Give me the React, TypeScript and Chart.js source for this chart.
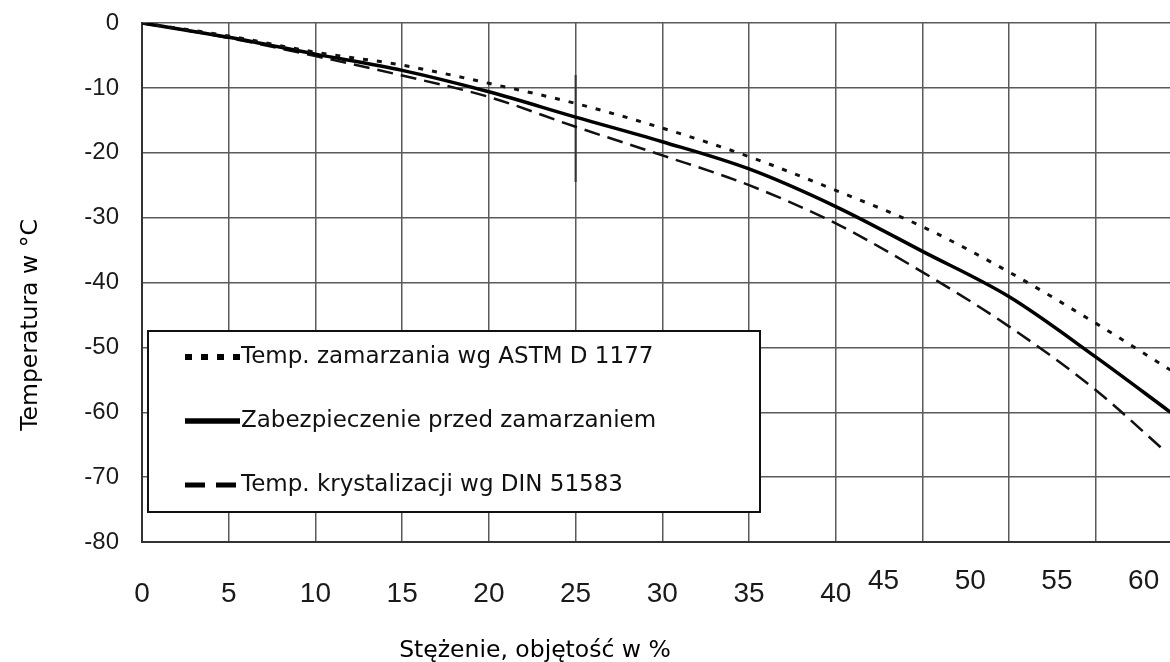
import React, { useEffect, useRef } from "react";
import { Chart, registerables } from "chart.js";

Chart.register(...registerables);

// Data
const astmX = [0, 5, 10, 15, 20, 25, 30, 35, 40, 45, 50, 55, 59.3];
const astmY = [0, -2, -4.5, -6.5, -9.3, -12.4, -16.2, -20.6, -25.8, -31.4, -38.4, -46.3, -53.5];

const protX = [0, 5, 10, 15, 20, 25, 30, 35, 40, 45, 50, 55, 59.3];
const protY = [0, -2.2, -4.8, -7.3, -10.6, -14.5, -18.3, -22.5, -28.3, -35.2, -42.2, -51.5, -60];

const dinX = [0, 5, 10, 15, 20, 25, 30, 35, 40, 45, 50, 55, 58.9];
const dinY = [0, -2.3, -5.1, -8.1, -11.4, -16, -20.4, -25, -30.9, -38.4, -46.8, -56.6, -65.8];

// short dark stroke on the 25 % grid line in the reference
const markX = [25, 25];
const markY = [-8, -24.5];

const seriesLabels = [
  "Temp. zamarzania wg ASTM D 1177",
  "Zabezpieczenie przed zamarzaniem",
  "Temp. krystalizacji wg DIN 51583",
];

const xTickValues = [0, 5, 10, 15, 20, 25, 30, 35, 40, 45, 50, 55, 60];
const yTickValues = [0, -10, -20, -30, -40, -50, -60, -70, -80];

const xTitle = "Stężenie, objętość w %";
const yTitle = "Temperatura w °C";

const toPoints = (xs: number[], ys: number[]) => xs.map((x, i) => ({ x, y: ys[i] }));

const overlayPlugin = {
  id: "overlay",
  afterDraw(chart: any) {
    const { ctx, chartArea, scales } = chart;
    const xs = scales.x;
    ctx.save();
    // x tick labels (the ones from 45 on are shifted in the reference)
    ctx.fillStyle = "#1a1a1a";
    ctx.font = "28px 'Liberation Sans', Arial, sans-serif";
    ctx.textAlign = "center";
    ctx.textBaseline = "middle";
    xTickValues.forEach((v) => {
      const shifted = v >= 45;
      const px = xs.getPixelForValue(v) + (shifted ? -39 : 0);
      const py = chartArea.bottom + (shifted ? 39 : 52);
      ctx.fillText(String(v), px, py);
    });

    // titles
    ctx.fillStyle = "#000";
    ctx.font = "23.5px 'DejaVu Sans', Verdana, sans-serif";
    ctx.textBaseline = "alphabetic";
    ctx.fillText(xTitle, 535, 657);
    ctx.save();
    ctx.translate(37, 325);
    ctx.rotate(-Math.PI / 2);
    ctx.fillText(yTitle, 0, 0);
    ctx.restore();

    // legend box
    const bx = chartArea.left + 6;
    const by = 331;
    const bw = 612;
    const bh = 181;
    ctx.fillStyle = "#fff";
    ctx.fillRect(bx, by, bw, bh);
    ctx.strokeStyle = "#111";
    ctx.lineWidth = 2;
    ctx.strokeRect(bx, by, bw, bh);

    const rows = [357, 421, 485];
    const sx0 = 185;
    const sx1 = 240;
    ctx.strokeStyle = "#000";
    ctx.lineCap = "butt";
    // dotted sample
    ctx.lineWidth = 6;
    ctx.setLineDash([7, 9]);
    ctx.beginPath();
    ctx.moveTo(sx0, rows[0]);
    ctx.lineTo(sx1, rows[0]);
    ctx.stroke();
    // solid sample
    ctx.lineWidth = 5.5;
    ctx.setLineDash([]);
    ctx.beginPath();
    ctx.moveTo(sx0, rows[1]);
    ctx.lineTo(sx1, rows[1]);
    ctx.stroke();
    // dashed sample
    ctx.lineWidth = 5;
    ctx.setLineDash([20, 11]);
    ctx.beginPath();
    ctx.moveTo(sx0, rows[2]);
    ctx.lineTo(sx1 + 2, rows[2]);
    ctx.stroke();
    ctx.setLineDash([]);

    ctx.fillStyle = "#111";
    ctx.textAlign = "left";
    ctx.textBaseline = "middle";
    ctx.font = "23px 'DejaVu Sans', Verdana, sans-serif";
    seriesLabels.forEach((t, i) => ctx.fillText(t, sx1 + 1, rows[i]));
    ctx.restore();
  },
};

export default function App() {
  const ref = useRef<HTMLCanvasElement | null>(null);
  useEffect(() => {
    if (!ref.current) return;
    const chart = new Chart(ref.current, {
      type: "line",
      data: {
        datasets: [
          {
            label: seriesLabels[0],
            data: toPoints(astmX, astmY),
            borderColor: "#111",
            borderWidth: 3,
            borderDash: [5, 9],
            pointRadius: 0,
            cubicInterpolationMode: "monotone",
            fill: false,
          },
          {
            label: seriesLabels[1],
            data: toPoints(protX, protY),
            borderColor: "#000",
            borderWidth: 3.5,
            pointRadius: 0,
            cubicInterpolationMode: "monotone",
            fill: false,
          },
          {
            label: seriesLabels[2],
            data: toPoints(dinX, dinY),
            borderColor: "#111",
            borderWidth: 2.5,
            borderDash: [16, 8],
            pointRadius: 0,
            cubicInterpolationMode: "monotone",
            fill: false,
          },
          {
            label: "",
            data: toPoints(markX, markY),
            borderColor: "#333",
            borderWidth: 2,
            pointRadius: 0,
            fill: false,
          },
        ],
      },
      plugins: [overlayPlugin],
      options: {
        animation: false,
        responsive: false,
        devicePixelRatio: 1,
        layout: { padding: { top: 23, right: 0, left: 0, bottom: 0 } },
        plugins: {
          legend: { display: false },
          tooltip: { enabled: false },
        },
        scales: {
          x: {
            type: "linear",
            min: 0,
            max: 59.27,
            ticks: { stepSize: 5, display: false, includeBounds: false },
            grid: { color: "#5a5a5a", lineWidth: 1.5, drawTicks: false },
            border: { color: "#333", width: 2 },
            afterFit: (s: any) => {
              s.height = 120;
              s.paddingLeft = 0;
              s.paddingRight = 0;
            },
          },
          y: {
            type: "linear",
            min: -80,
            max: 0,
            afterBuildTicks: (s: any) => {
              s.ticks = yTickValues.map((v) => ({ value: v }));
            },
            ticks: {
              color: "#1a1a1a",
              padding: 23,
              font: { family: "'Liberation Sans', Arial, sans-serif", size: 24 },
            },
            grid: { color: "#5a5a5a", lineWidth: 1.5, drawTicks: false },
            border: { color: "#333", width: 2 },
            afterFit: (s: any) => {
              s.width = 142;
              s.paddingTop = 0;
              s.paddingBottom = 0;
            },
          },
        },
      },
    });
    return () => chart.destroy();
  }, []);
  return (
    <div style={{ position: "absolute", left: 0, top: 0, width: 1170, height: 662, background: "#fff" }}>
      <canvas ref={ref} width={1170} height={662} style={{ width: 1170, height: 662, display: "block" }} />
    </div>
  );
}
